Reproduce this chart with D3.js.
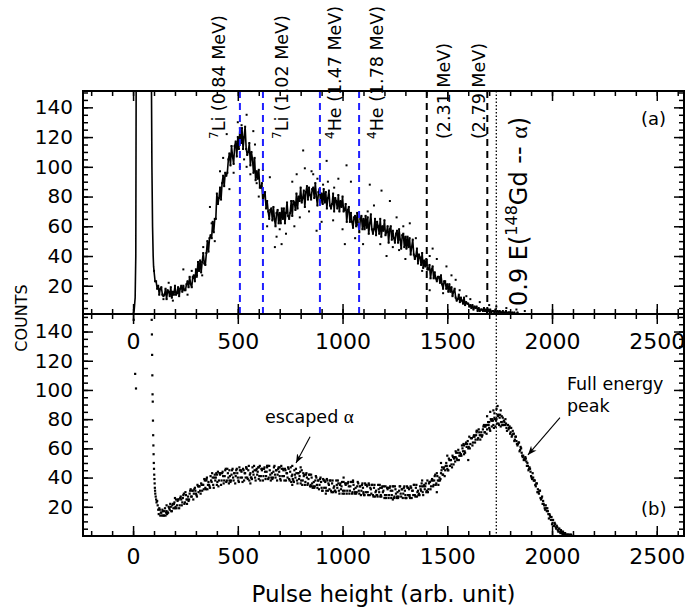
<!DOCTYPE html>
<html>
<head>
<meta charset="utf-8">
<script src="https://cdn.jsdelivr.net/npm/d3@7"></script>
<style>
  body { margin: 0; background: #fff; }
  svg text { font-family: "DejaVu Sans", sans-serif; fill: #000; }
</style>
</head>
<body>
<div id="chart"></div>
<script>
// ---- panel (a): coincidence spectrum, counts every 5 channels from channel 100
const startA = 100, stepA = 5;
const countsA = [
  30, 23, 23, 18, 20, 14, 18, 19, 14, 13,
  14, 18, 11, 17, 16, 13, 19, 12, 16, 14,
  20, 14, 15, 19, 13, 18, 20, 16, 20, 17,
  17, 21, 23, 19, 26, 21, 19, 26, 27, 23,
  31, 27, 36, 30, 37, 29, 36, 42, 35, 34,
  42, 50, 43, 52, 54, 52, 63, 56, 65, 65,
  82, 75, 79, 86, 78, 89, 94, 87, 96, 94,
  96, 105, 109, 101, 114, 107, 102, 114, 117, 107,
  120, 112, 126, 116, 126, 112, 120, 127, 112, 108,
  110, 116, 101, 110, 105, 96, 106, 91, 97, 92,
  98, 86, 86, 89, 75, 82, 83, 72, 77, 70,
  65, 71, 72, 64, 73, 65, 60, 69, 71, 62,
  69, 62, 72, 65, 72, 62, 69, 76, 67, 65,
  69, 77, 67, 77, 76, 71, 82, 72, 80, 77,
  86, 76, 79, 84, 73, 83, 87, 78, 86, 81,
  78, 85, 86, 79, 89, 80, 74, 83, 85, 76,
  82, 75, 85, 76, 83, 72, 79, 84, 74, 72,
  75, 82, 70, 79, 77, 72, 81, 70, 77, 73,
  80, 70, 71, 75, 63, 71, 73, 63, 69, 63,
  59, 66, 67, 60, 69, 61, 56, 65, 67, 58,
  65, 58, 67, 59, 66, 55, 62, 68, 58, 55,
  58, 65, 54, 63, 60, 55, 65, 53, 60, 57,
  64, 54, 56, 60, 49, 58, 60, 51, 57, 52,
  49, 55, 57, 49, 58, 51, 45, 54, 55, 46,
  53, 45, 53, 46, 52, 41, 46, 51, 41, 38,
  40, 45, 35, 41, 39, 34, 42, 32, 37, 33,
  38, 31, 31, 34, 25, 31, 33, 25, 29, 25,
  23, 26, 26, 22, 27, 21, 18, 23, 23, 18,
  21, 16, 21, 16, 19, 13, 16, 18, 12, 10,
  11, 14, 9, 12, 10, 8, 12, 7, 9, 8,
  8, 6, 7, 5, 7, 4, 6, 5, 6, 3,
  5, 3, 4, 4, 3, 5, 3, 4, 2, 4,
  3, 4, 2, 3, 3, 2, 4, 2, 3, 2,
  3, 2, 2, 3, 1, 2, 3, 1, 2, 2,
  2, 1, 2, 1, 2, 1, 1, 2, 1, 1,
  1, 1, 0, 1, 1, 0, 1, 0, 1, 0,
  0, 1, 0, 0, 1, 0, 0, 0, 1, 0,
  0
];
// pedestal edge below channel 100
const leadA = [[-10, 0], [0, 1], [5, 3], [10, 12], [13, 40], [15, 170], [85, 170],
  [88, 150], [90, 100], [93, 60], [96, 40], [98, 33]];
// stray points off the main band
const outliersA = [[542, 135], [518, 128], [447, 122], [574, 124], [582, 115], [542, 100],
  [510, 100], [590, 89], [653, 93], [685, 53], [709, 48], [677, 46], [812, 111], [852, 97],
  [781, 95], [876, 57], [796, 66], [367, 73], [375, 62], [415, 97], [145, 11], [304, 26],
  [240, 31], [335, 46], [1019, 101], [924, 104], [907, 88], [955, 64], [1011, 48],
  [1186, 84], [1226, 77], [1130, 88], [1098, 48], [1210, 40], [1258, 66], [1321, 62],
  [1416, 40], [1496, 33], [1416, 17], [1559, 17], [1591, 13], [1655, 9], [1734, 6],
  [1782, 5], [860, 95], [880, 92], [820, 99], [760, 90], [700, 58], [640, 60], [980, 92],
  [1040, 90], [1150, 74], [1270, 44], [1350, 52], [1450, 38], [1520, 27], [460, 85],
  [500, 130], [560, 95], [620, 98], [900, 63], [1000, 58], [1180, 48], [1300, 38],
  [170, 22], [190, 10], [260, 14], [280, 30], [330, 27], [390, 50], [430, 106], [480, 96],
  [530, 105], [600, 80], [730, 55], [770, 60], [840, 70], [930, 90], [960, 86], [1060, 52],
  [1120, 70], [1240, 46], [1290, 60], [1380, 30], [1430, 45], [1480, 15], [1540, 24],
  [1610, 11], [1700, 7], [1830, 4], [1870, 3]];

// ---- panel (b): singles spectrum, two interleaved channel sets, every 5 channels
const startB = 115, startB2 = 117.5, stepB = 5;
const countsB = [
  24, 18, 19, 14, 16, 18, 14, 17, 14, 17,
  16, 20, 18, 20, 17, 22, 22, 19, 25, 21,
  25, 19, 26, 25, 23, 28, 22, 30, 25, 25,
  24, 29, 32, 27, 31, 29, 33, 29, 27, 34,
  34, 31, 36, 31, 35, 39, 33, 38, 32, 37,
  34, 41, 37, 40, 33, 42, 40, 35, 44, 38,
  42, 35, 43, 41, 38, 45, 37, 46, 40, 38,
  37, 42, 46, 38, 43, 41, 46, 40, 37, 45,
  45, 40, 46, 38, 43, 47, 40, 45, 38, 43,
  40, 47, 42, 45, 38, 46, 44, 39, 48, 41,
  45, 38, 46, 44, 41, 47, 39, 48, 42, 40,
  39, 44, 48, 40, 45, 42, 47, 41, 38, 46,
  46, 41, 46, 38, 43, 47, 39, 44, 37, 42,
  38, 45, 40, 43, 36, 43, 41, 36, 45, 38,
  41, 35, 42, 40, 36, 42, 34, 42, 36, 34,
  33, 38, 40, 33, 38, 35, 40, 33, 31, 38,
  38, 33, 39, 31, 35, 38, 31, 36, 30, 34,
  31, 38, 33, 36, 29, 36, 34, 29, 37, 31,
  35, 29, 36, 34, 31, 37, 29, 37, 32, 30,
  29, 34, 36, 29, 34, 31, 36, 30, 28, 35,
  35, 30, 36, 28, 32, 35, 28, 33, 27, 31,
  28, 35, 30, 33, 27, 34, 31, 26, 34, 28,
  32, 26, 33, 31, 28, 34, 26, 34, 29, 27,
  26, 31, 34, 27, 32, 29, 34, 28, 26, 33,
  33, 28, 34, 26, 31, 35, 28, 33, 27, 31,
  29, 34, 31, 34, 28, 35, 34, 30, 38, 32,
  37, 32, 38, 38, 35, 41, 35, 43, 38, 38,
  38, 43, 47, 42, 47, 45, 50, 46, 45, 52,
  52, 49, 55, 49, 54, 58, 53, 57, 52, 57,
  56, 62, 58, 62, 57, 64, 63, 60, 68, 63,
  67, 62, 68, 68, 66, 71, 66, 73, 69, 69,
  68, 73, 76, 71, 76, 73, 78, 74, 72, 79,
  79, 76, 81, 75, 80, 83, 77, 81, 75, 78,
  76, 79, 76, 77, 72, 76, 74, 70, 74, 69,
  70, 65, 68, 65, 62, 64, 58, 61, 57, 54,
  52, 52, 53, 48, 48, 46, 46, 41, 39, 40,
  38, 35, 36, 30, 30, 31, 26, 26, 22, 22,
  19, 21, 17, 17, 12, 14, 11, 8, 11, 7,
  8, 5, 6, 3, 5, 2, 3, 1, 2, 1,
  1, 0, 1, 0, 0, 1, 0, 0
];
const countsB2 = [
  21, 15, 18, 16, 14, 17, 14, 19, 16, 15,
  16, 19, 22, 17, 21, 19, 23, 20, 19, 24,
  25, 21, 27, 21, 26, 29, 23, 28, 22, 27,
  25, 31, 27, 31, 25, 32, 31, 28, 35, 30,
  34, 29, 35, 35, 32, 38, 32, 40, 35, 35,
  33, 38, 43, 35, 40, 38, 43, 37, 34, 43,
  43, 38, 44, 36, 41, 46, 38, 43, 36, 41,
  38, 45, 40, 43, 36, 45, 43, 38, 47, 40,
  44, 37, 45, 43, 40, 46, 39, 48, 42, 40,
  39, 44, 48, 40, 45, 42, 47, 41, 38, 46,
  46, 41, 47, 39, 44, 48, 40, 45, 38, 43,
  40, 47, 42, 45, 38, 46, 44, 39, 48, 41,
  45, 38, 45, 43, 40, 46, 38, 47, 41, 39,
  37, 42, 46, 38, 43, 39, 44, 38, 35, 43,
  42, 37, 43, 35, 39, 42, 35, 40, 33, 37,
  34, 41, 35, 38, 32, 39, 37, 31, 39, 33,
  37, 31, 38, 36, 32, 38, 30, 38, 33, 31,
  30, 35, 38, 31, 35, 32, 37, 31, 29, 36,
  36, 31, 37, 29, 34, 37, 30, 35, 29, 33,
  30, 37, 31, 34, 28, 35, 33, 28, 36, 30,
  34, 28, 35, 33, 29, 35, 27, 35, 30, 28,
  27, 32, 35, 28, 33, 30, 34, 28, 26, 33,
  33, 28, 34, 26, 31, 34, 27, 32, 26, 30,
  27, 34, 29, 32, 26, 33, 31, 26, 34, 28,
  32, 26, 33, 31, 28, 35, 27, 35, 30, 28,
  28, 32, 36, 30, 34, 32, 36, 31, 30, 36,
  37, 34, 39, 34, 38, 42, 36, 41, 35, 40,
  39, 45, 42, 46, 41, 48, 48, 45, 53, 48,
  52, 47, 54, 53, 51, 57, 52, 59, 55, 55,
  55, 60, 63, 58, 63, 61, 65, 61, 60, 67,
  67, 64, 69, 64, 69, 72, 67, 71, 66, 71,
  69, 75, 71, 75, 70, 76, 76, 73, 80, 75,
  79, 74, 80, 79, 77, 82, 76, 83, 78, 76,
  76, 78, 80, 74, 76, 73, 75, 71, 68, 72,
  70, 66, 68, 63, 63, 64, 59, 60, 55, 55,
  53, 54, 51, 50, 45, 47, 44, 40, 43, 38,
  38, 34, 36, 32, 29, 31, 25, 27, 24, 21,
  18, 19, 19, 15, 15, 13, 13, 9, 7, 9,
  6, 7, 4, 5, 3, 4, 2, 3, 1, 2,
  0, 1, 0, 1, 0, 0, 0, 0
];
const leadB = [[3, 148], [10, 111], [14, 101], [89, 148], [90, 138], [91, 124], [92, 110],
  [93, 97], [94, 92], [95, 79], [96, 69], [97, 62], [98, 56], [99, 50], [100, 46], [101, 42],
  [102, 39], [103, 36], [104, 33], [105, 31], [106, 29], [108, 27], [110, 25], [112, 23]];
const outliersB = [[1690, 82], [1705, 85], [1715, 80], [1725, 84], [1735, 87], [1745, 83],
  [1755, 86], [1765, 81], [1700, 78], [1740, 89], [1720, 86], [1680, 75], [1760, 82],
  [1580, 56], [1600, 52], [1640, 72], [1540, 54], [1450, 30], [1320, 27], [1240, 25],
  [1100, 29], [1005, 40], [850, 34], [800, 47], [760, 48], [700, 47], [640, 48], [600, 47],
  [540, 47], [460, 45], [400, 42], [350, 39], [200, 26], [160, 21], [1470, 50], [1500, 55],
  [1380, 38], [920, 29], [760, 35], [1300, 26], [1180, 27], [1050, 38], [560, 36]];

// ---- reference energies (pulse height positions) and labels
const markEnergy = [510, 620, 892, 1079, 1402, 1691];
const markIsotope = ["7", "7", "4", "4", "", ""];
const markName = ["Li (0.84 MeV)", "Li (1.02 MeV)", "He (1.47 MeV)", "He (1.78 MeV)",
  "(2.31 MeV)", "(2.79 MeV)"];
const markColor = ["#1f1fff", "#1f1fff", "#1f1fff", "#1f1fff", "#000", "#000"];
const gdEnergy = 1734;

const xTicks = [0, 500, 1000, 1500, 2000, 2500];
const yTicks = [20, 40, 60, 80, 100, 120, 140];

// ---- layout
const width = 690, height = 612;
const left = 83, right = 684;
const aTop = 91, aBottom = 314, bTop = 314, bBottom = 536;

const svg = d3.select("#chart").append("svg")
  .attr("width", width).attr("height", height)
  .style("background", "#fff");

const xScale = d3.scaleLinear().domain([-239, 2630]).range([left, right]);
const yA = d3.scaleLinear().domain([1, 151]).range([aBottom, aTop]);
const yB = d3.scaleLinear().domain([0, 152]).range([bBottom, bTop]);

const xMinor = d3.range(-200, 2601, 100);

function clip(id, y0, y1) {
  svg.append("clipPath").attr("id", id).append("rect")
    .attr("x", left).attr("y", y0).attr("width", right - left).attr("height", y1 - y0);
}
clip("clipA", aTop, aBottom);
clip("clipB", bTop, bBottom);

const defs = svg.append("defs");
defs.append("marker").attr("id", "arr")
  .attr("viewBox", "0 0 10 10").attr("refX", 10).attr("refY", 5)
  .attr("markerWidth", 9).attr("markerHeight", 9)
  .attr("markerUnits", "userSpaceOnUse").attr("orient", "auto")
  .append("path").attr("d", "M0,1 L10,5 L0,9 L3,5 z").attr("fill", "#000");

// ---- spectra
const ptsA = countsA.map((c, i) => [startA + i * stepA, c]);
const ptsB = countsB.map((c, i) => [startB + i * stepB, c])
  .concat(countsB2.map((c, i) => [startB2 + i * stepB, c]));

const gA = svg.append("g").attr("clip-path", "url(#clipA)");
gA.append("path")
  .datum(leadA.concat(ptsA))
  .attr("fill", "none").attr("stroke", "#000").attr("stroke-width", 1.6)
  .attr("stroke-linejoin", "round")
  .attr("d", d3.line().x(d => xScale(d[0])).y(d => yA(d[1])));
gA.selectAll("rect.dot")
  .data(ptsA.concat(outliersA))
  .join("rect").attr("class", "dot")
  .attr("x", d => xScale(d[0]) - 1).attr("y", d => yA(d[1]) - 1)
  .attr("width", 2).attr("height", 2).attr("fill", "#000");

const gB = svg.append("g").attr("clip-path", "url(#clipB)");
gB.selectAll("rect.dot")
  .data(leadB.concat(ptsB, outliersB))
  .join("rect").attr("class", "dot")
  .attr("x", d => xScale(d[0]) - 1.1).attr("y", d => yB(d[1]) - 1.1)
  .attr("width", 2.2).attr("height", 2.2).attr("fill", "#000");

// ---- reference lines in panel (a)
markEnergy.forEach((e, i) => {
  svg.append("line")
    .attr("x1", xScale(e)).attr("x2", xScale(e))
    .attr("y1", aTop).attr("y2", aBottom)
    .attr("stroke", markColor[i]).attr("stroke-width", 2)
    .attr("stroke-dasharray", "7,5");
});
svg.append("line")
  .attr("x1", xScale(gdEnergy)).attr("x2", xScale(gdEnergy))
  .attr("y1", aTop).attr("y2", bBottom)
  .attr("stroke", "#000").attr("stroke-width", 1.3)
  .attr("stroke-dasharray", "1.5,2");

// ---- axes: ticks inward on all four sides of each panel
function tickAxis(axis, scale, values, size, y0, x0) {
  const g = svg.append("g")
    .attr("transform", `translate(${x0 || 0},${y0 || 0})`)
    .call(axis(scale).tickValues(values).tickSize(size).tickFormat(""));
  g.select(".domain").remove();
  g.selectAll("line").attr("stroke-width", 1.5);
}
[[yA, aTop, aBottom], [yB, bTop, bBottom]].forEach(([ys, t, b]) => {
  const minor = d3.range(5, 151, 5);
  tickAxis(d3.axisLeft, ys, yTicks, -10, 0, left);
  tickAxis(d3.axisLeft, ys, minor, -5, 0, left);
  tickAxis(d3.axisRight, ys, yTicks, -10, 0, right);
  tickAxis(d3.axisRight, ys, minor, -5, 0, right);
  tickAxis(d3.axisTop, xScale, xTicks, -10, t);
  tickAxis(d3.axisTop, xScale, xMinor, -5, t);
  tickAxis(d3.axisBottom, xScale, xTicks, -10, b);
  tickAxis(d3.axisBottom, xScale, xMinor, -5, b);

  const yl = svg.append("g").attr("transform", `translate(${left},0)`)
    .call(d3.axisLeft(ys).tickValues(yTicks).tickSize(0).tickPadding(10));
  yl.select(".domain").remove();
  yl.selectAll("text").style("font-size", "20px");

  const xl = svg.append("g").attr("transform", `translate(0,${b})`)
    .call(d3.axisBottom(xScale).tickValues(xTicks).tickFormat(d3.format("d"))
      .tickSize(0).tickPadding(b === aBottom ? 19 : 12));
  xl.select(".domain").remove();
  xl.selectAll("text").style("font-size", "22px");

  svg.append("rect")
    .attr("x", left).attr("y", t).attr("width", right - left).attr("height", b - t)
    .attr("fill", "none").attr("stroke", "#000").attr("stroke-width", 2);
});

// ---- rotated labels over the top of panel (a)
const markDx = [-15, 25, 21, 24, 23, -2];
markEnergy.forEach((e, i) => {
  const px = xScale(e) + markDx[i];
  const t = svg.append("text")
    .attr("transform", `translate(${px},139) rotate(-90)`)
    .style("font-size", "17.5px");
  if (markIsotope[i]) {
    t.append("tspan").attr("dy", -7).style("font-size", "12px").text(markIsotope[i]);
    t.append("tspan").attr("dy", 7).text(markName[i]);
  } else {
    t.append("tspan").text(markName[i]);
  }
});

const gdText = svg.append("text")
  .attr("transform", `translate(${xScale(gdEnergy) + 31},306) rotate(-90)`)
  .style("font-size", "24px");
gdText.append("tspan").text("0.9 E(");
gdText.append("tspan").attr("dy", -10).style("font-size", "16px").text("148");
gdText.append("tspan").attr("dy", 10).text("Gd -- ");
gdText.append("tspan").style("font-family", "'Liberation Serif', serif").text("α");
gdText.append("tspan").text(")");

// ---- panel tags and annotations
svg.append("text").attr("x", 641).attr("y", 125).style("font-size", "18px").text("(a)");
svg.append("text").attr("x", 641).attr("y", 515).style("font-size", "18px").text("(b)");

const esc = svg.append("text")
  .attr("x", xScale(630)).attr("y", yB(77.5)).style("font-size", "17.5px");
esc.append("tspan").text("escaped ");
esc.append("tspan").style("font-family", "'Liberation Serif', serif").style("font-size", "19px").text("α");

svg.append("line")
  .attr("x1", xScale(845)).attr("y1", yB(68)).attr("x2", xScale(778)).attr("y2", yB(50))
  .attr("stroke", "#000").attr("stroke-width", 1.1).attr("marker-end", "url(#arr)");

svg.append("text").attr("x", xScale(2071)).attr("y", yB(100))
  .style("font-size", "17.5px").text("Full energy");
svg.append("text").attr("x", xScale(2071)).attr("y", yB(85))
  .style("font-size", "17.5px").text("peak");
svg.append("line")
  .attr("x1", xScale(2038)).attr("y1", yB(81)).attr("x2", xScale(1885)).attr("y2", yB(55.5))
  .attr("stroke", "#000").attr("stroke-width", 1.1).attr("marker-end", "url(#arr)");

// ---- axis titles
svg.append("text")
  .attr("x", (left + right) / 2).attr("y", 602)
  .attr("text-anchor", "middle").style("font-size", "23px")
  .text("Pulse height (arb. unit)");
svg.append("text")
  .attr("transform", "translate(27,318) rotate(-90)")
  .attr("text-anchor", "middle").style("font-size", "16px")
  .text("COUNTS");
</script>
</body>
</html>
